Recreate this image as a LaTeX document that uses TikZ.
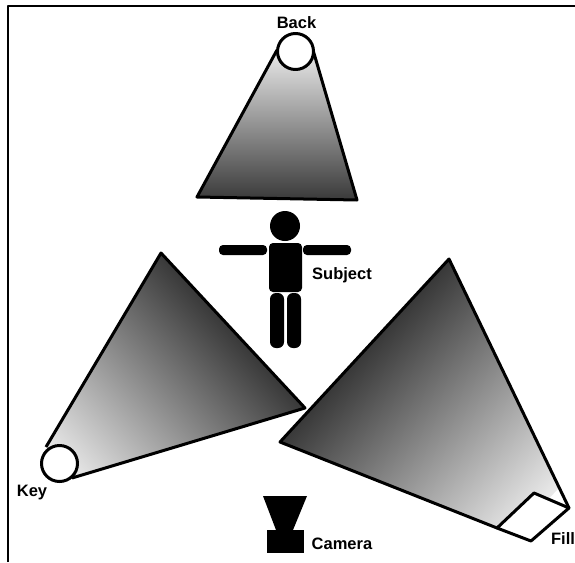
\documentclass[tikz,border=0pt]{standalone}
\usepackage{fontspec}
\setmainfont{Liberation Sans}
\usetikzlibrary{positioning}
\begin{document}
\begin{tikzpicture}[
    x=1pt,
    y=-1pt,
    line join=round,
    label/.style={
        font=\fontsize{16.5}{18}\selectfont\bfseries,
        inner sep=0pt
    },
    glow/.style={
        top color=black!78,
        bottom color=white!92!black
    },
    beam/.style={
        draw=black,
        line width=3pt
    },
    lamp/.style={
        draw=black,
        fill=white,
        line width=3pt
    },
    bulb/.style={
        lamp,
        circle,
        minimum size=36pt,
        inner sep=0pt
    },
    body/.style={
        fill=black,
        rounded corners=#1
    },
    body/.default=3pt
]
\useasboundingbox (0,0) rectangle (575,562);

% frame
\draw[line width=1.6pt] (8,562) -- (8,6) -- (575,6);

% back light
\begin{scope}
    \clip (277,50) -- (313,50) -- (357,200) -- (197,197) -- cycle;
    \shade[top color=white!92!black, bottom color=black!78] (190,50) rectangle (365,201);
\end{scope}
\draw[beam] (277,50) -- (197,197) -- (357,200) -- (313,50);
\node[bulb] (back) at (295.5,51.5) {};
\node[label, above=3.5pt of back, xshift=1pt] (backlabel) {Back};

% key light
\begin{scope}
    \clip (46,447) -- (161,253) -- (305,408) -- (72,478) -- cycle;
    \shade[glow, transform canvas={rotate around={-47:(139,389)}}]
        (-111,280) rectangle (389,498);
\end{scope}
\draw[beam] (46,447) -- (161,253) -- (305,408) -- (72,478);
\node[bulb] (key) at (59.5,463.5) {};
\node[label] (keylabel) at (32,493) {Key};

% fill light
\begin{scope}
    \clip (280,442) -- (449,259) -- (569,508) -- (497,528) -- cycle;
    \shade[glow, transform canvas={rotate around={47:(446,436)}}]
        (196,318) rectangle (696,554);
\end{scope}
\draw[beam] (497,528) -- (280,442) -- (449,259) -- (569,508);
\draw[lamp] (534,493) -- (569,508) -- (531,541) -- (497,528) -- cycle;
\node[label] (filllabel) at (563,539) {Fill};

% subject
\fill (285,226) circle (15);
\fill[body=4pt] (269,243) rectangle (302,292);
\fill[body=4pt] (219,245) rectangle (267,255);
\fill[body=4pt] (303,245) rectangle (351,255);
\fill[body=6pt] (270,293) rectangle (284,348);
\fill[body=6pt] (287,293) rectangle (301,348);
\node[label] (subjectlabel) at (342,275) {Subject};

% camera
\fill (263,496) -- (307,496) -- (293,530) -- (276,530) -- cycle;
\fill (267,530) rectangle (304,553);
\node[label] (cameralabel) at (342,544) {Camera};
\end{tikzpicture}
\end{document}
